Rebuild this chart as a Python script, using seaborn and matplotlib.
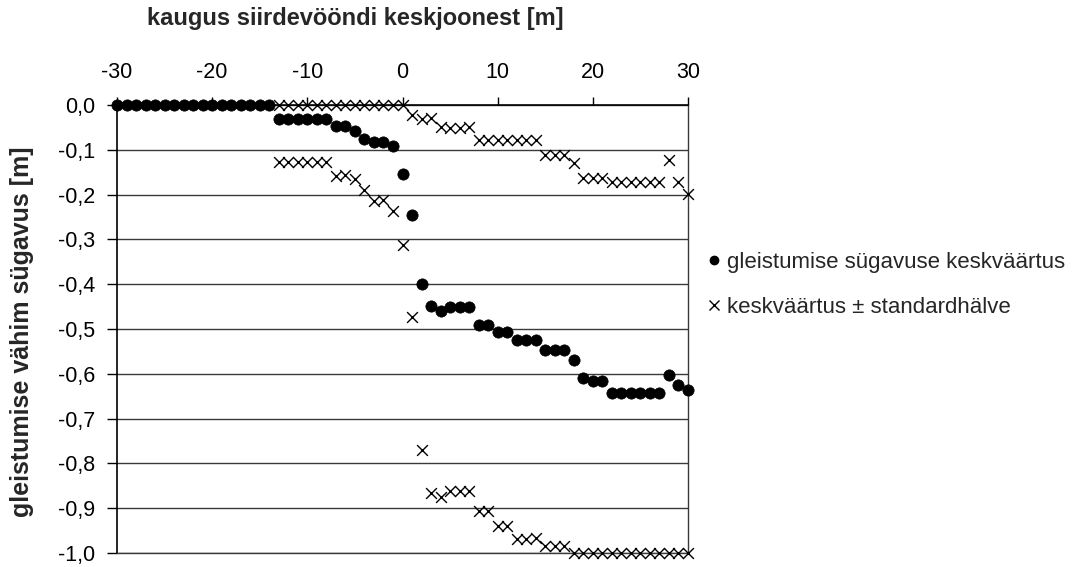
import numpy as np
import pandas as pd
import matplotlib
matplotlib.use("Agg")
import matplotlib.pyplot as plt
from matplotlib.lines import Line2D
from matplotlib.ticker import FuncFormatter
import seaborn as sns

# distance from the centre line of the transition zone [m]
distance = list(range(-30, 31))

# mean depth of gleying
mean_depth = ([0.0] * 17 +
              [-0.032] * 6 +
              [-0.047, -0.047, -0.057, -0.075, -0.083, -0.083, -0.091,
               -0.155, -0.246, -0.400, -0.449, -0.460, -0.452, -0.452, -0.452,
               -0.490, -0.490, -0.506, -0.506, -0.525, -0.525, -0.525,
               -0.547, -0.547, -0.547, -0.570, -0.609, -0.617, -0.617,
               -0.642, -0.642, -0.642, -0.642, -0.642, -0.642,
               -0.602, -0.625, -0.636])

# mean + standard deviation
upper = ([np.nan] * 17 +
         [0.0] * 14 +
         [-0.023, -0.031, -0.029, -0.050, -0.052, -0.052, -0.050,
          -0.078, -0.078, -0.078, -0.078, -0.078, -0.078, -0.078,
          -0.112, -0.112, -0.112, -0.130, -0.162, -0.164, -0.164,
          -0.171, -0.171, -0.171, -0.171, -0.171, -0.171,
          -0.123, -0.171, -0.199])

# mean - standard deviation
lower = ([np.nan] * 17 +
         [-0.127] * 6 +
         [-0.158, -0.157, -0.166, -0.190, -0.215, -0.213, -0.236,
          -0.313, -0.474, -0.770, -0.865, -0.874, -0.861, -0.861, -0.861,
          -0.906, -0.906, -0.940, -0.940, -0.969, -0.969, -0.966,
          -0.984, -0.984, -0.984] +
         [-1.0] * 13)

yticks = [0.0, -0.1, -0.2, -0.3, -0.4, -0.5, -0.6, -0.7, -0.8, -0.9, -1.0]
xticks = [-30, -20, -10, 0, 10, 20, 30]

label_mean = "gleistumise sügavuse keskväärtus"
label_sd = "keskväärtus ± standardhälve"
xlabel = "kaugus siirdevööndi keskjoonest [m]"
ylabel = "gleistumise vähim sügavus [m]"

df = pd.DataFrame({"x": distance, "mean": mean_depth, "upper": upper, "lower": lower})

sns.set_style("white")
plt.rcParams["font.family"] = ["Liberation Sans", "DejaVu Sans"]
plt.rcParams["axes.unicode_minus"] = False

fig = plt.figure(figsize=(10.82, 5.67), dpi=100)
ax = fig.add_axes([117 / 1082, 1 - 553 / 567, (688 - 117) / 1082, (553 - 105) / 567])

for v in yticks:
    ax.axhline(v, color="#3a3a3a", lw=1.0, zorder=0)

sns.scatterplot(data=df, x="x", y="upper", marker="x", color="black", s=60,
                linewidth=1.0, ax=ax, zorder=3)
sns.scatterplot(data=df, x="x", y="lower", marker="x", color="black", s=60,
                linewidth=1.0, ax=ax, zorder=3)
sns.scatterplot(data=df, x="x", y="mean", marker="o", color="black", s=66,
                edgecolor="black", linewidth=0.5, ax=ax, zorder=4)

ax.set_xlim(-30, 30)
ax.set_ylim(-1.0, 0.0)
ax.set_xticks(xticks)
ax.set_yticks(yticks)
ax.xaxis.tick_top()
ax.yaxis.set_major_formatter(FuncFormatter(lambda v, p: f"{v:.1f}".replace(".", ",")))
ax.tick_params(axis="x", direction="out", length=6, width=1, pad=10, labelsize=15.5,
               top=True, bottom=False, colors="black")
ax.tick_params(axis="y", direction="out", length=7, width=1, pad=9, labelsize=15.5,
               left=True, colors="black")
ax.set_xlabel("")
ax.set_ylabel("")
for side in ["left", "top"]:
    ax.spines[side].set_color("black")
    ax.spines[side].set_linewidth(1.2)
for side in ["right", "bottom"]:
    ax.spines[side].set_color("#3a3a3a")
    ax.spines[side].set_linewidth(1.0)
for c in ax.collections:
    c.set_clip_on(False)

fig.text(355 / 1082, 1 - 19 / 567, xlabel, ha="center", va="center",
         fontsize=17, fontweight="bold")
fig.text(22 / 1082, 1 - 332 / 567, ylabel, ha="center", va="center",
         rotation=90, fontsize=18, fontweight="bold")

handles = [Line2D([], [], marker="o", color="black", ls="none", markersize=6),
           Line2D([], [], marker="x", color="black", ls="none", markersize=7,
                  markeredgewidth=1.0)]
fig.legend(handles, [label_mean, label_sd], loc="center left",
           bbox_to_anchor=(683 / 1082, 1 - 285 / 567), frameon=False,
           fontsize=16, handletextpad=0.1, handlelength=1.0, labelspacing=1.1)

fig.savefig("out.png", dpi=100)
